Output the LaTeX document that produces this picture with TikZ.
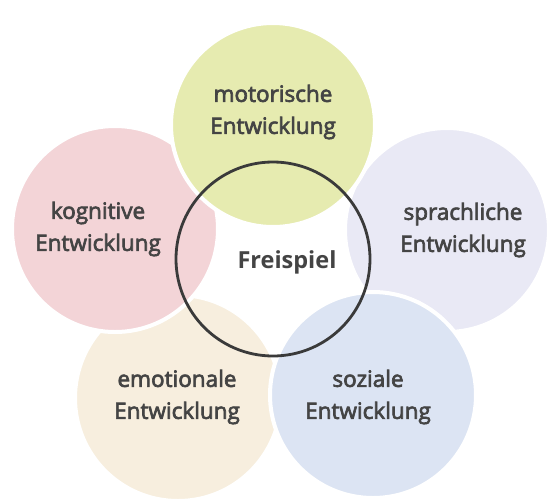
\documentclass[tikz,border=0pt]{standalone}
\usepackage{fontspec}
\setmainfont{Open Sans}
\newfontfamily\medfont{Open Sans}[FakeBold=3]
\definecolor{cgreen}{RGB}{230,235,176}
\definecolor{cpink}{RGB}{243,212,215}
\definecolor{cpurple}{RGB}{233,233,245}
\definecolor{cbeige}{RGB}{247,238,222}
\definecolor{cblue}{RGB}{220,228,243}
\definecolor{ctext}{RGB}{68,68,68}
\definecolor{cring}{RGB}{58,58,58}
\tikzset{
  blob/.style={circle, draw=white, line width=4pt, minimum size=#1, inner sep=0pt},
  lbl/.style={align=center, text=ctext, font=\medfont\fontsize{22.5}{32}\selectfont, inner sep=0pt},
  ring/.style={circle, draw=cring, line width=2.8pt, minimum size=194pt, inner sep=0pt}
}
\begin{document}
\begin{tikzpicture}[x=1pt,y=-1pt]
\useasboundingbox[fill=white] (0,0) rectangle (549,499);
\node[blob=206pt, fill=cbeige] (beige) at (178,398) {};
\node[blob=204pt, fill=cpurple] (purple) at (447,230) {};
\node[blob=206pt, fill=cpink] (pink) at (115,229) {};
\node[blob=206pt, fill=cblue] (blue) at (373,395) {};
\node[blob=204pt, fill=cgreen] (green) at (273,125) {};
\node[ring] (ring) at (273,259) {};
\node[lbl] (tgreen) at (273,112) {motorische\\Entwicklung};
\node[lbl] (tpink) at (98,229) {kognitive\\Entwicklung};
\node[lbl] (tpurple) at (463,230) {sprachliche\\Entwicklung};
\node[lbl] (tbeige) at (177,397) {emotionale\\Entwicklung};
\node[lbl] (tblue) at (368,397) {soziale\\Entwicklung};
\node[lbl, font=\fontsize{23.5}{28}\selectfont\bfseries] (tfrei) at (287,262) {Freispiel};
\end{tikzpicture}
\end{document}
